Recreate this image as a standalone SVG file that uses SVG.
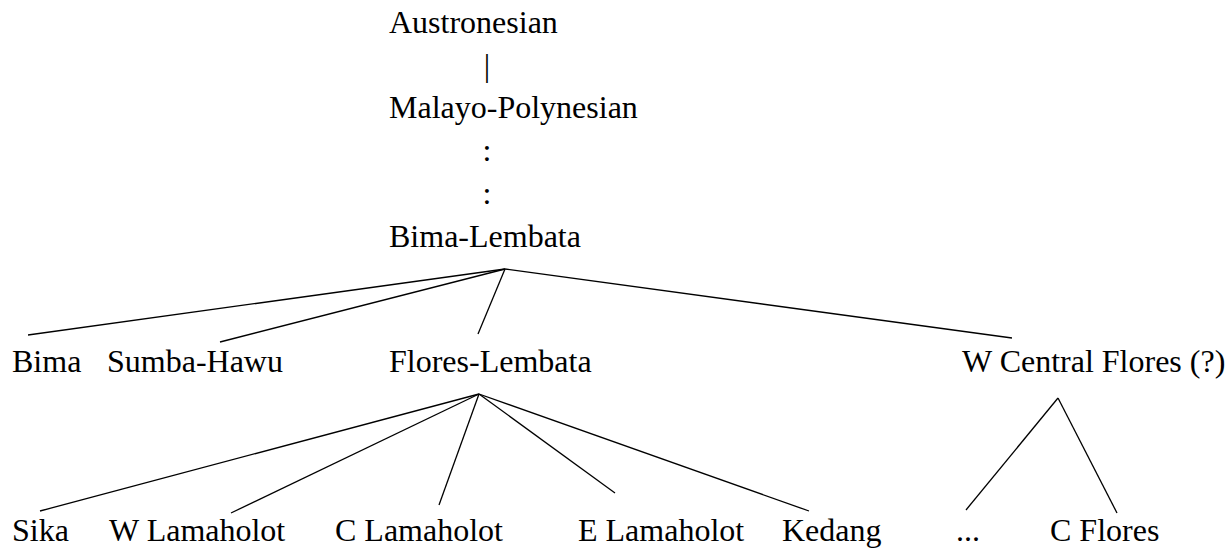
<svg xmlns="http://www.w3.org/2000/svg" width="1230" height="549" viewBox="0 0 1230 549">
<style>
text { font-family: "Liberation Serif", "Times New Roman", serif; font-size: 32px; fill: #000; }
.c { text-anchor: middle; }
#connectors line { stroke: #000; stroke-width: 1.3; fill: none; }
</style>
<rect width="1230" height="549" fill="#fff"/>
<g id="connectors">
<text class="c" x="487" y="75.7">|</text>
<text class="c" x="487" y="161">:</text>
<text class="c" x="487" y="203.8">:</text>
<line x1="505" y1="269" x2="28" y2="335"/>
<line x1="505" y1="269" x2="220" y2="342"/>
<line x1="505" y1="269" x2="478" y2="334"/>
<line x1="505" y1="269" x2="1012" y2="338"/>
<line x1="479" y1="394" x2="40" y2="511"/>
<line x1="479" y1="394" x2="231" y2="513"/>
<line x1="479" y1="394" x2="439" y2="505"/>
<line x1="479" y1="394" x2="615" y2="493"/>
<line x1="479" y1="394" x2="809" y2="511"/>
<line x1="1058" y1="398" x2="966" y2="510"/>
<line x1="1058" y1="398" x2="1117" y2="513"/>
</g>
<g id="austronesian"><text x="389" y="33">Austronesian</text></g>
<g id="malayo-polynesian"><text x="389" y="118.4">Malayo-Polynesian</text></g>
<g id="bima-lembata"><text x="389" y="246.5">Bima-Lembata</text></g>
<g id="bima"><text x="12" y="372">Bima</text></g>
<g id="sumba-hawu"><text x="107" y="372">Sumba-Hawu</text></g>
<g id="flores-lembata"><text x="389" y="372">Flores-Lembata</text></g>
<g id="w-central-flores"><text x="962" y="372">W Central Flores (?)</text></g>
<g id="sika"><text x="12" y="541">Sika</text></g>
<g id="w-lamaholot"><text x="109" y="541">W Lamaholot</text></g>
<g id="c-lamaholot"><text x="335" y="541">C Lamaholot</text></g>
<g id="e-lamaholot"><text x="578" y="541">E Lamaholot</text></g>
<g id="kedang"><text x="782" y="541">Kedang</text></g>
<g id="ellipsis"><text x="956" y="541">...</text></g>
<g id="c-flores"><text x="1050" y="541">C Flores</text></g>
</svg>
